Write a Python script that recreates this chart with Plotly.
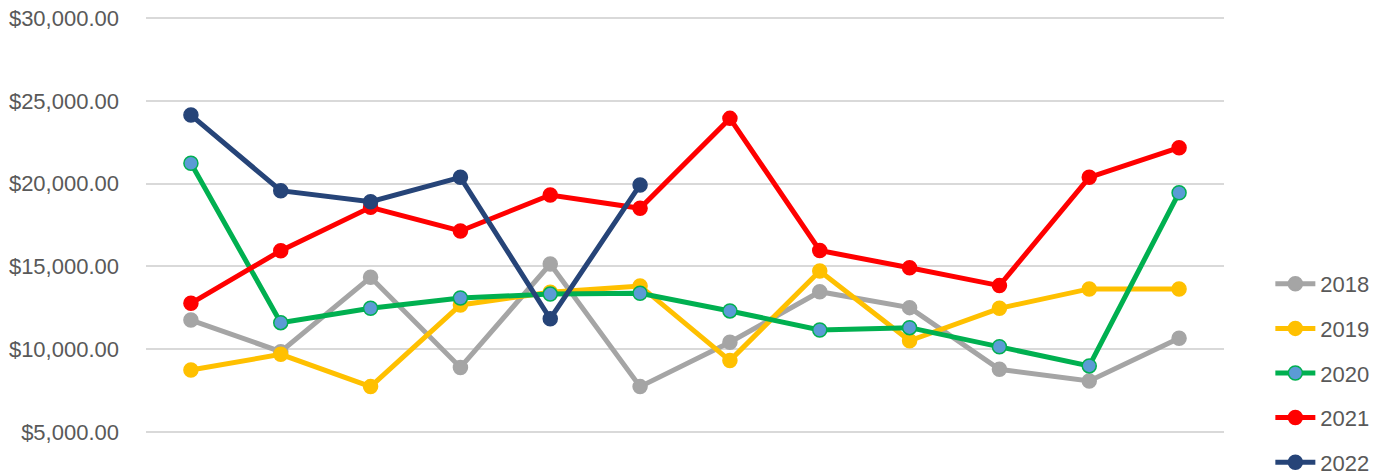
import plotly.graph_objects as go

months = ["Jan", "Feb", "Mar", "Apr", "May", "Jun", "Jul", "Aug", "Sep", "Oct", "Nov", "Dec"]

y2018 = [11760, 9850, 14340, 8900, 15145, 7740, 10420, 13470, 12510, 8790, 8080, 10660]
y2019 = [8740, 9690, 7740, 12670, 13440, 13820, 9310, 14720, 10510, 12470, 13640, 13640]
y2020 = [21230, 11600, 12470, 13090, 13330, 13380, 12310, 11160, 11300, 10150, 8990, 19450]
y2021 = [12770, 15950, 18570, 17140, 19310, 18510, 23940, 15960, 14920, 13840, 20380, 22170]
y2022 = [24140, 19570, 18910, 20380, 11840, 19920]

tick_vals = [5000, 10000, 15000, 20000, 25000, 30000]
tick_text = ["$5,000.00", "$10,000.00", "$15,000.00", "$20,000.00", "$25,000.00", "$30,000.00"]

series = [
    ("2018", y2018, "#A5A5A5", "#A5A5A5"),
    ("2019", y2019, "#FFC000", "#FFC000"),
    ("2020", y2020, "#00B050", "#5B9BD5"),
    ("2021", y2021, "#FF0000", "#FF0000"),
    ("2022", y2022, "#264478", "#264478"),
]

fig = go.Figure()
for name, vals, lc, mc in series:
    fig.add_trace(go.Scatter(
        x=months[:len(vals)], y=vals, name=name, mode="lines+markers",
        legendgroup=name,
        line=dict(color=lc, width=5),
        marker=dict(size=14, color=mc, line=dict(color=lc, width=1.5)),
    ))

fig.update_layout(
    width=1386, height=475,
    margin=dict(l=146, r=162, t=16, b=0, autoexpand=False),
    paper_bgcolor="white", plot_bgcolor="white",
    font=dict(family="Liberation Sans, Arial, sans-serif", size=22, color="#595959"),
    showlegend=True,
    legend=dict(x=1.043, y=-0.0174, xanchor="left", yanchor="bottom",
                font=dict(size=22, color="#595959"), tracegroupgap=13,
                itemwidth=40, bgcolor="rgba(0,0,0,0)"),
    xaxis=dict(type="category", categoryorder="array", categoryarray=months,
               range=[-0.5, 11.5], showticklabels=False, showgrid=False,
               zeroline=False, showline=False, ticks="", automargin=False),
    yaxis=dict(range=[2403, 30121], tickvals=tick_vals, ticktext=tick_text,
               showgrid=True, gridcolor="#D9D9D9", gridwidth=1.5,
               zeroline=False, showline=False, ticks="", ticklabelstandoff=26,
               ticklabeloverflow="allow", automargin=False,
               tickfont=dict(size=22, color="#595959")),
)

fig.write_html("out.html",
               config={"displayModeBar": False},
               post_script="document.body.style.margin='0';document.body.style.overflow='hidden';")
